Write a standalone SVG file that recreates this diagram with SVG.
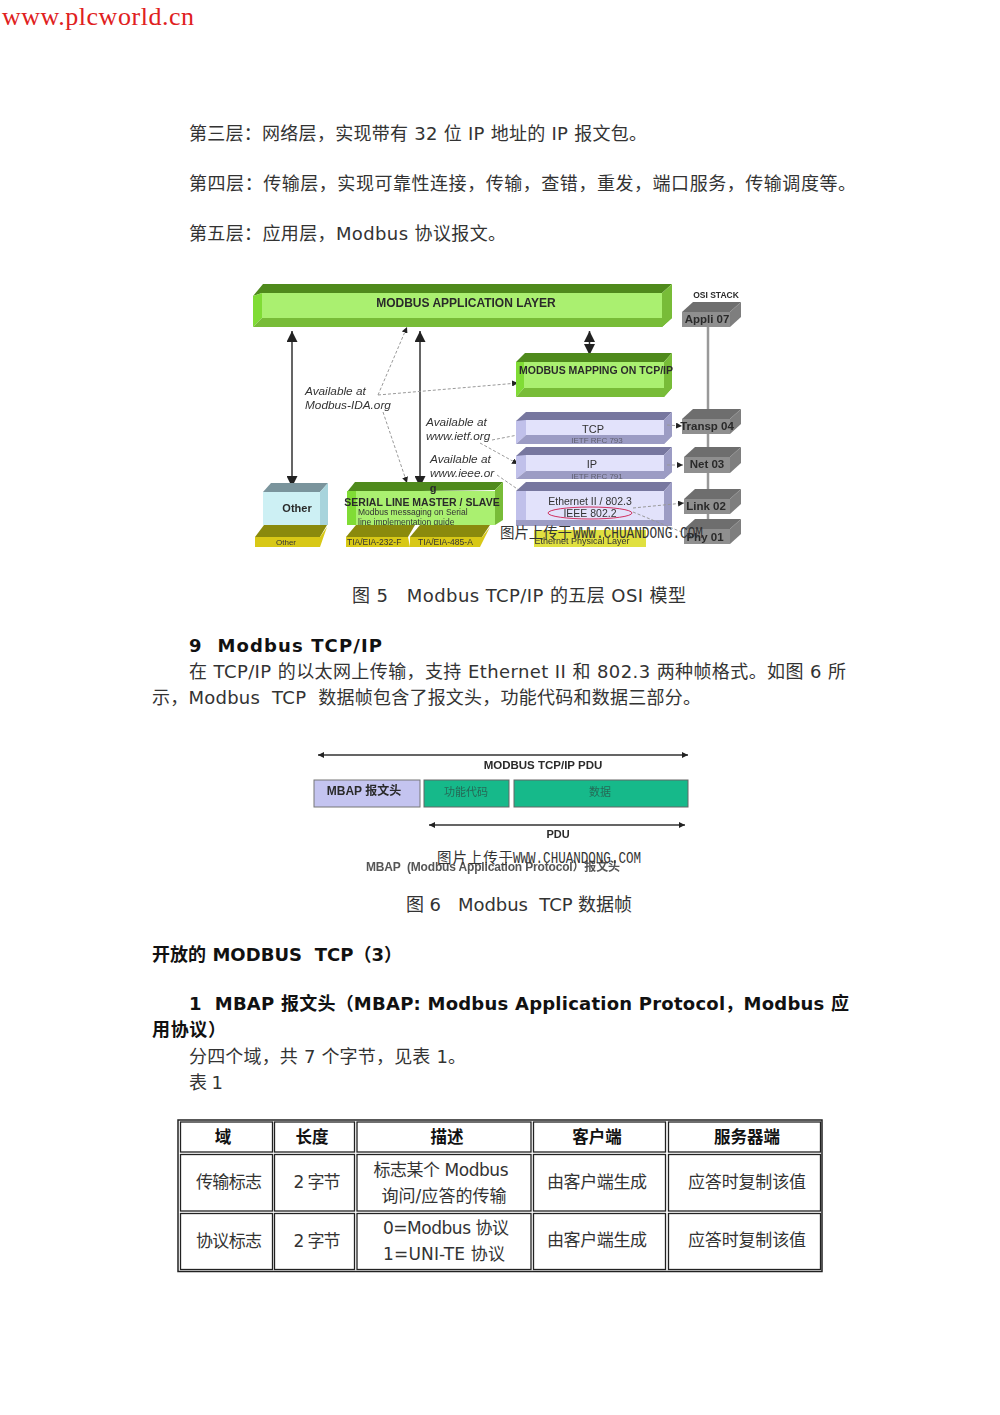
<svg xmlns="http://www.w3.org/2000/svg" width="1000" height="1415" viewBox="0 0 1000 1415">
<defs>
<style>
text{font-family:"DejaVu Sans","Noto Sans CJK SC",sans-serif;fill:#222}
.b{font-size:18px;fill:#333}
.h{font-size:18px;font-weight:700;fill:#111}
.c{font-size:17px;fill:#333;text-anchor:middle}
.th{font-size:16.5px;font-weight:700;fill:#111;text-anchor:middle}
.f{font-family:"Liberation Sans","Noto Sans CJK SC",sans-serif;fill:#333}
.fb{font-family:"Liberation Sans","Noto Sans CJK SC",sans-serif;font-weight:700;fill:#2a2a2a}
.wc{font-family:"Noto Sans CJK SC",sans-serif;font-size:14.500px;fill:#333}
.wl{font-family:"Liberation Mono",monospace;font-size:17px;fill:#333}
.cell{fill:#fff;stroke:#222;stroke-width:1.3}
.ln{stroke:#333;stroke-width:1.500;fill:none}
.dash{stroke:#999;stroke-width:1;stroke-dasharray:3 2;fill:none}
.gl{fill:#aaf070}.gt{fill:#4f8a1e}.gb{fill:#78bc38}.gs{fill:#80dc34}
.pf{fill:#e2e2fb}.pt{fill:#77779f}.pb{fill:#9c9cc4}.ps{fill:#c0c0ea}
.of{fill:#8f8f8f}.ot{fill:#6e6e6e}.os{fill:#7e7e7e}
.yf{fill:#d8c818}.yt{fill:#8a8a10}
</style>
<filter id="soft" x="-5%" y="-5%" width="110%" height="110%"><feGaussianBlur stdDeviation="0.6"/></filter>
<marker id="ah" viewBox="0 0 10 10" refX="10" refY="5" markerWidth="11" markerHeight="11" markerUnits="userSpaceOnUse" orient="auto-start-reverse"><path d="M0 0L10 5L0 10z" fill="#222"/></marker>
<marker id="as" viewBox="0 0 10 10" refX="10" refY="5" markerWidth="6" markerHeight="6" markerUnits="userSpaceOnUse" orient="auto-start-reverse"><path d="M0 0L10 5L0 10z" fill="#222"/></marker>
</defs>
<rect width="1000" height="1415" fill="#fff"/>

<text x="2" y="25" style="font-family:'Liberation Serif',serif;font-size:26px;fill:#e02020" textLength="192">www.plcworld.cn</text>

<g id="body-top">
<text class="b" x="189" y="140" textLength="458">第三层：网络层，实现带有 32 位 IP 地址的 IP 报文包。</text>
<text class="b" x="189" y="190" textLength="667">第四层：传输层，实现可靠性连接，传输，查错，重发，端口服务，传输调度等。</text>
<text class="b" x="189" y="240" textLength="317">第五层：应用层，Modbus 协议报文。</text>
</g>

<g id="figure5" filter="url(#soft)">
<g id="connectors5">
<path d="M708 327V520" stroke="#999" stroke-width="2.500" fill="none"/>
<path class="ln" d="M292 331V487" marker-start="url(#ah)" marker-end="url(#ah)"/>
<path class="ln" d="M420 331V487" marker-start="url(#ah)" marker-end="url(#ah)"/>
<path class="ln" d="M589.500 331V355" stroke-width="2" marker-start="url(#ah)" marker-end="url(#ah)"/>
<path d="M378 395L407 327" class="dash" marker-end="url(#as)"/>
<path d="M378 395L518 383" class="dash" marker-end="url(#as)"/>
<path d="M383 412L407 483" class="dash" marker-end="url(#as)"/>
<path d="M492 440L528 433" class="dash" marker-end="url(#as)"/>
<path d="M480 443L518 464" class="dash" marker-end="url(#as)"/>
<path d="M497 475L545 508" class="dash" marker-end="url(#as)"/>
</g>
<g id="app-layer">
<polygon class="gt" points="253,296 263,284 672,284 662,293 262,293"/>
<polygon class="gs" points="253,296 262,293 262,318 253,327"/>
<rect class="gl" x="262" y="293" width="400" height="25"/>
<polygon class="gb" points="253,327 262,318 662,318 672,318 662,327"/>
<polygon class="gb" points="662,293 672,284 672,318 662,327"/>
<text class="fb" x="466" y="307" font-size="12" text-anchor="middle">MODBUS APPLICATION LAYER</text>
</g>
<g id="mapping">
<polygon class="gt" points="516,362 525,353 672,353 664,362"/>
<polygon class="gs" points="516,362 524,362 524,388 516,397"/>
<rect class="gl" x="524" y="362" width="140" height="26"/>
<polygon class="gb" points="516,397 524,388 664,388 672,380 672,388 664,397"/>
<polygon class="gb" points="664,362 672,353 672,388 664,397"/>
<text class="fb" x="596" y="374" font-size="10.500" text-anchor="middle">MODBUS MAPPING ON TCP/IP</text>
</g>
<g id="tcp">
<polygon class="pt" points="516,421 526,412 672,412 664,420"/>
<polygon class="ps" points="516,421 526,420 526,435 516,444"/>
<rect class="pf" x="526" y="420" width="138" height="15"/>
<polygon class="pb" points="516,444 526,435 664,435 672,428 672,436 664,444"/>
<polygon class="pb" points="664,420 672,412 672,436 664,444"/>
<text class="f" x="593" y="433" font-size="11" text-anchor="middle">TCP</text>
<text class="f" x="597" y="443" font-size="8" text-anchor="middle" fill-opacity="0.6">IETF RFC 793</text>
</g>
<g id="ip">
<polygon class="pt" points="516,456 526,447 672,447 664,455"/>
<polygon class="ps" points="516,456 526,455 526,471 516,479"/>
<rect class="pf" x="526" y="455" width="138" height="16"/>
<polygon class="pb" points="516,479 526,471 664,471 672,464 672,472 664,479"/>
<polygon class="pb" points="664,455 672,447 672,472 664,479"/>
<text class="f" x="592" y="468" font-size="11" text-anchor="middle">IP</text>
<text class="f" x="597" y="479" font-size="8" text-anchor="middle" fill-opacity="0.6">IETF RFC 791</text>
</g>
<g id="ethernet">
<polygon class="pt" points="516,491 526,482 672,482 664,491"/>
<rect class="ps" x="516" y="491" width="10" height="34"/>
<rect class="pf" x="526" y="491" width="138" height="34"/>
<polygon class="pb" points="664,491 672,482 672,525 664,525"/>
<rect class="pb" x="516" y="520" width="156" height="6"/>
<text class="f" x="590" y="505" font-size="10.500" text-anchor="middle">Ethernet II / 802.3</text>
<text class="f" x="590" y="517" font-size="10.500" text-anchor="middle">IEEE 802.2</text>
<ellipse cx="590" cy="513" rx="42" ry="6" fill="none" stroke="#d03060" stroke-width="1"/>
</g>
<g id="eth-physical">
<rect x="534" y="530" width="112" height="17" fill="#e0e040"/>
<text class="f" x="582" y="544" font-size="9" text-anchor="middle">Ethernet Physical Layer</text>
</g>
<g id="connectors5b">
<path d="M667 425L682 426" class="dash" marker-end="url(#as)"/>
<path d="M667 465L683 465" class="dash" marker-end="url(#as)"/>
<path d="M633 508L684 503" class="dash" marker-end="url(#as)"/>
<path d="M633 512L684 533" class="dash"/>
</g>
<g id="other">
<polygon points="263,492 271,483 328,483 320,492" fill="#7a949c"/>
<rect x="263" y="492" width="57" height="33" fill="#cdf0f4"/>
<polygon points="320,492 328,483 328,525 320,525" fill="#a8d4dc"/>
<text class="fb" x="297" y="512" font-size="11" text-anchor="middle">Other</text>
<polygon class="yt" points="255,537 264,525 327,525 320,537"/>
<polygon class="yf" points="255,537 320,537 327,527 320,547 255,547"/>
<text class="f" x="276" y="545" font-size="8">Other</text>
</g>
<g id="serial">
<polygon class="gt" points="347,492 355,482 503,482 495,490"/>
<rect class="gl" x="347" y="491" width="148" height="34"/>
<polygon class="gs" points="347,491 356,491 356,525 347,525"/>
<polygon class="gb" points="495,490 503,482 503,520 495,525"/>
<text class="fb" x="422" y="506" font-size="10.500" text-anchor="middle">SERIAL LINE MASTER / SLAVE</text>
<text class="f" x="358" y="515" font-size="8.500">Modbus messaging on Serial</text>
<text class="f" x="358" y="525" font-size="8.500">line implementation guide</text>
<text class="fb" x="433" y="492" font-size="11" text-anchor="middle">g</text>
</g>
<g id="tia232">
<polygon class="yt" points="346,537 356,525 415,525 408,537"/>
<polygon class="yf" points="346,537 408,537 410,547 346,547"/>
<text class="f" x="347" y="545" font-size="8.500">TIA/EIA-232-F</text>
</g>
<g id="tia485">
<polygon class="yt" points="410,537 420,525 490,525 482,537"/>
<polygon class="yf" points="410,537 482,537 490,527 480,547 410,547"/>
<text class="f" x="418" y="545" font-size="8.500">TIA/EIA-485-A</text>
</g>
<g id="osi-label"><text class="fb" x="716" y="298" font-size="8.500" text-anchor="middle">OSI STACK</text></g>
<g id="appli">
<polygon class="ot" points="682,312 693,302 741,302 730,312"/><rect class="of" x="682" y="312" width="48" height="15"/><polygon class="os" points="730,312 741,302 741,317 730,327"/>
<text class="fb" x="707" y="323" font-size="11.500" text-anchor="middle">Appli 07</text>
</g>
<g id="transp">
<polygon class="ot" points="682,419 693,409 741,409 730,419"/><rect class="of" x="682" y="419" width="48" height="15"/><polygon class="os" points="730,419 741,409 741,424 730,434"/>
<text class="fb" x="707" y="430" font-size="11.500" text-anchor="middle">Transp 04</text>
</g>
<g id="net">
<polygon class="ot" points="684,457 695,447 741,447 730,457"/><rect class="of" x="684" y="457" width="46" height="16"/><polygon class="os" points="730,457 741,447 741,463 730,473"/>
<text class="fb" x="707" y="468" font-size="11.500" text-anchor="middle">Net 03</text>
</g>
<g id="link">
<polygon class="ot" points="684,499 695,489 741,489 730,499"/><rect class="of" x="684" y="499" width="46" height="15"/><polygon class="os" points="730,499 741,489 741,504 730,514"/>
<text class="fb" x="706" y="510" font-size="11.500" text-anchor="middle">Link 02</text>
</g>
<g id="phy">
<polygon class="ot" points="684,529 695,519 741,519 730,529"/><rect class="of" x="684" y="529" width="46" height="15"/><polygon class="os" points="730,529 741,519 741,534 730,544"/>
<text class="fb" x="705" y="541" font-size="11.500" text-anchor="middle">Phy 01</text>
</g>
<g id="notes" font-style="italic" font-size="11.800">
<text class="f" x="305" y="395">Available at</text>
<text class="f" x="305" y="409">Modbus-IDA.org</text>
<text class="f" x="426" y="426">Available at</text>
<text class="f" x="426" y="440">www.ietf.org</text>
<text class="f" x="430" y="463">Available at</text>
<text class="f" x="430" y="477">www.ieee.or</text>
</g>
</g>
<g id="watermark5">
<text class="wc" x="500" y="538" textLength="72">图片上传于</text>
<text class="wl" x="573" y="538" textLength="130" lengthAdjust="spacingAndGlyphs">WWW.CHUANDONG.COM</text>
</g>

<text class="b" x="352" y="602" textLength="334">图 5&#160;&#160;&#160;Modbus&#160;TCP/IP 的五层 OSI 模型</text>
<text class="h" x="189" y="652" textLength="193">9&#160;&#160;Modbus TCP/IP</text>
<text class="b" x="189" y="678" textLength="657">在 TCP/IP 的以太网上传输，支持 Ethernet II 和 802.3 两种帧格式。如图 6 所</text>
<text class="b" x="152" y="704" textLength="549">示，Modbus&#160;&#160;TCP&#160;&#160;数据帧包含了报文头，功能代码和数据三部分。</text>

<g id="figure6" filter="url(#soft)">
<g id="connectors6">
<path class="ln" d="M318 755H688" marker-start="url(#as)" marker-end="url(#as)"/>
<path class="ln" d="M429 825H685" marker-start="url(#as)" marker-end="url(#as)"/>
</g>
<text class="fb" x="543" y="769" font-size="11.500" text-anchor="middle">MODBUS TCP/IP PDU</text>
<g id="mbap"><rect x="314" y="780" width="106" height="27" fill="#c4c4f0" stroke="#777"/><text class="fb" x="364" y="795" font-size="12" text-anchor="middle">MBAP 报文头</text></g>
<g id="func"><rect x="424" y="780" width="85" height="27" fill="#14b98a" stroke="#666"/><text class="f" x="466" y="796" font-size="11" text-anchor="middle" fill-opacity="0.6">功能代码</text></g>
<g id="data"><rect x="514" y="780" width="174" height="27" fill="#14b98a" stroke="#666"/><text class="f" x="600" y="796" font-size="11" text-anchor="middle" fill-opacity="0.6">数据</text></g>
<text class="fb" x="558" y="838" font-size="11" text-anchor="middle">PDU</text>
<text class="fb" x="366" y="871" font-size="12" fill-opacity="0.8" textLength="254">MBAP&#160;&#160;(Modbus Application Protocol）报文头</text>
</g>
<g id="watermark6">
<text class="wc" x="437" y="863" textLength="76">图片上传于</text>
<text class="wl" x="513" y="863" textLength="128" lengthAdjust="spacingAndGlyphs">WWW.CHUANDONG.COM</text>
</g>

<text class="b" x="406" y="911" textLength="226">图 6&#160;&#160;&#160;Modbus&#160;&#160;TCP 数据帧</text>
<text class="h" x="152" y="961" textLength="250">开放的 MODBUS&#160;&#160;TCP（3）</text>
<text class="h" x="189" y="1010" textLength="660">1&#160;&#160;MBAP 报文头（MBAP:&#160;Modbus&#160;Application&#160;Protocol，Modbus 应</text>
<text class="h" x="152" y="1036" textLength="74">用协议）</text>
<text class="b" x="189" y="1063" textLength="277">分四个域，共 7 个字节，见表 1。</text>
<text class="b" x="189" y="1089" textLength="34">表 1</text>

<g id="table1">
<rect x="178" y="1120" width="644" height="151.500" fill="#fff" stroke="#222" stroke-width="1.500"/>
<rect class="cell" x="180.500" y="1122" width="92" height="30"/>
<rect class="cell" x="274.500" y="1122" width="80" height="30"/>
<rect class="cell" x="357" y="1122" width="174" height="30"/>
<rect class="cell" x="533.500" y="1122" width="132" height="30"/>
<rect class="cell" x="668.500" y="1122" width="152" height="30"/>
<rect class="cell" x="180.500" y="1154.500" width="92" height="56.500"/>
<rect class="cell" x="274.500" y="1154.500" width="80" height="56.500"/>
<rect class="cell" x="357" y="1154.500" width="174" height="56.500"/>
<rect class="cell" x="533.500" y="1154.500" width="132" height="56.500"/>
<rect class="cell" x="668.500" y="1154.500" width="152" height="56.500"/>
<rect class="cell" x="180.500" y="1213.500" width="92" height="56"/>
<rect class="cell" x="274.500" y="1213.500" width="80" height="56"/>
<rect class="cell" x="357" y="1213.500" width="174" height="56"/>
<rect class="cell" x="533.500" y="1213.500" width="132" height="56"/>
<rect class="cell" x="668.500" y="1213.500" width="152" height="56"/>
<text class="th" x="223" y="1143">域</text>
<text class="th" x="312" y="1143">长度</text>
<text class="th" x="447" y="1143">描述</text>
<text class="th" x="597" y="1143">客户端</text>
<text class="th" x="747" y="1143">服务器端</text>
<text class="c" x="229" y="1188" textLength="66">传输标志</text>
<text class="c" x="317" y="1188" textLength="47">2 字节</text>
<text class="c" x="441" y="1176" textLength="135">标志某个 Modbus</text>
<text class="c" x="444" y="1202" textLength="125">询问/应答的传输</text>
<text class="c" x="597" y="1188" textLength="100">由客户端生成</text>
<text class="c" x="747" y="1188" textLength="118">应答时复制该值</text>
<text class="c" x="229" y="1247" textLength="66">协议标志</text>
<text class="c" x="317" y="1247" textLength="47">2 字节</text>
<text class="c" x="446" y="1234" textLength="126">0=Modbus 协议</text>
<text class="c" x="444" y="1260" textLength="122">1=UNI-TE 协议</text>
<text class="c" x="597" y="1246" textLength="100">由客户端生成</text>
<text class="c" x="747" y="1246" textLength="118">应答时复制该值</text>
</g>
</svg>
